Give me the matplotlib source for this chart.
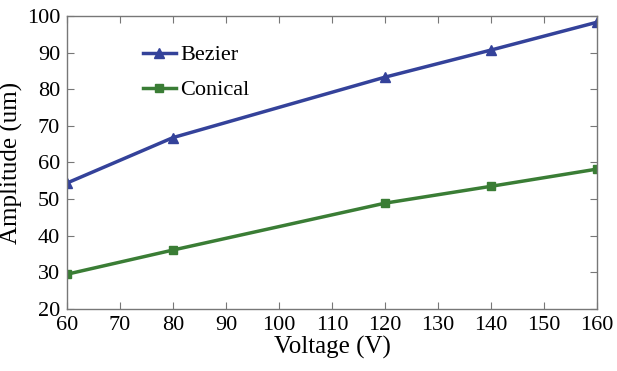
import matplotlib
matplotlib.use("Agg")
import matplotlib.pyplot as plt

voltage = [60, 80, 120, 140, 160]
bezier = [54.4, 66.8, 83.3, 90.7, 98.3]
conical = [29.5, 36.1, 48.9, 53.5, 58.2]

x_ticks = list(range(60, 161, 10))
y_ticks = list(range(20, 101, 10))

plt.rcParams['font.family'] = ['Liberation Serif', 'DejaVu Serif']

fig = plt.figure(figsize=(6.17, 3.71), dpi=100)
ax = fig.add_axes([0.1086, 0.1671, 0.859, 0.7898])

ax.plot(voltage, bezier, color='#34429a', lw=2.5, marker='^', ms=7,
        label='Bezier')
ax.plot(voltage, conical, color='#3a7d35', lw=2.5, marker='s', ms=5.5,
        label='Conical')

ax.set_xlim(60, 160)
ax.set_ylim(20, 100)
ax.set_xticks(x_ticks)
ax.set_yticks(y_ticks)
ax.tick_params(direction='in', length=5, width=0.8, color='#777777',
               labelsize=16, top=True, right=True, pad=5)
for s in ax.spines.values():
    s.set_color('#777777')
    s.set_linewidth(1)

ax.set_xlabel('Voltage (V)', fontsize=18, labelpad=1)
ax.set_ylabel('Amplitude (um)', fontsize=18, labelpad=3)

ax.legend(loc='upper left', bbox_to_anchor=(0.105, 0.97), frameon=False,
          fontsize=16, handlelength=1.5, handletextpad=0.2, labelspacing=0.65)

fig.savefig('out.png', dpi=100)
